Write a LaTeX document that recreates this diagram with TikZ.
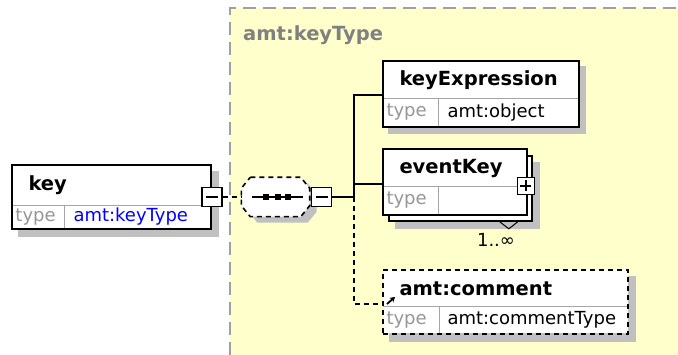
\documentclass[tikz,border=0pt]{standalone}
\usepackage{fontspec}
\setmainfont{DejaVu Sans}
\usetikzlibrary{arrows.meta,positioning,calc,fit,backgrounds}

\definecolor{grpyellow}{RGB}{255,255,204}
\definecolor{grpframe}{RGB}{160,160,160}
\definecolor{grptext}{RGB}{128,128,128}
\definecolor{shadowgray}{RGB}{192,192,192}
\definecolor{rule}{RGB}{165,165,165}
\definecolor{typegray}{RGB}{150,150,150}
\definecolor{typelink}{RGB}{0,0,255}

\newcommand{\hdfont}{\fontsize{19.5}{22}\selectfont\bfseries}
\newcommand{\rowfont}{\fontsize{18}{21}\selectfont}
% octagon round node #1, moved by (#2,#3)
\newcommand{\seqoutline}[3]{
  ([shift={(9+#2,#3)}]#1.north west) -- ([shift={(-9+#2,#3)}]#1.north east)
  -- ([shift={(#2,11+#3)}]#1.north east) -- ([shift={(#2,-11+#3)}]#1.south east)
  -- ([shift={(-9+#2,#3)}]#1.south east) -- ([shift={(9+#2,#3)}]#1.south west)
  -- ([shift={(#2,-11+#3)}]#1.south west) -- ([shift={(#2,11+#3)}]#1.north west) -- cycle}

\begin{document}
\begin{tikzpicture}[x=1pt, y=-1pt,
    hd/.style={draw=rule, line width=1pt, fill=white, anchor=north west, inner xsep=16pt, inner ysep=0pt, align=left, font=\hdfont},
    tl/.style={draw=rule, line width=1pt, fill=white, anchor=north west, inner xsep=3pt, inner ysep=0pt, text width=49pt, align=left, font=\rowfont, text=typegray},
    tv/.style={draw=rule, line width=1pt, fill=white, anchor=north west, inner xsep=9pt, inner ysep=0pt, align=left, font=\rowfont},
    frame/.style={draw, line width=1.8pt, inner sep=0pt},
    minusbox/.style={draw, fill=white, line width=1.6pt, minimum width=20pt, minimum height=19pt, inner sep=0pt,
        path picture={\draw[line width=1.6pt] ([xshift=4pt]path picture bounding box.west) -- ([xshift=-4pt]path picture bounding box.east);}},
    plusbox/.style={draw, fill=white, line width=1.5pt, minimum size=17pt, inner sep=0pt,
        path picture={\draw[line width=1.5pt] ([xshift=3pt]path picture bounding box.west) -- ([xshift=-3pt]path picture bounding box.east)
                                              ([yshift=-3pt]path picture bounding box.north) -- ([yshift=3pt]path picture bounding box.south);}},
    seqbox/.style={minimum width=68pt, minimum height=39pt, inner sep=0pt},
    wire/.style={line width=1.8pt},
    optwire/.style={line width=1.8pt, dash pattern=on 5pt off 4pt}
]
\useasboundingbox (0,0) rectangle (678,355);

% group of amt:keyType
\begin{scope}[on background layer]
  \fill[grpyellow] (230,8) rectangle (678,355);
  \draw[grpframe, line width=1.8pt, dash pattern=on 13pt off 7pt] (230,355) -- (230,8) -- (678,8);
\end{scope}
\node[anchor=west, inner sep=0pt, font=\hdfont, text=grptext] (grplabel) at (243,35) {amt:keyType};

% key
\node[hd, text width=166pt, minimum height=40pt] (keyhd) at (12,165) {key};
\node[tl, text width=46pt, minimum height=23pt] (keytl) at (12,205) {type};
\node[tv, text width=128pt, minimum height=23pt, text=typelink] (keyval) at (64,205) {amt:keyType};
\node[frame, fit=(keyhd)(keytl)(keyval)] (key) {};
\node[minusbox] (keymin) at (key.east) {};

% sequence
\node[seqbox] (seq) at (275.5,197) {};
\filldraw[fill=white, line width=1.6pt, dash pattern=on 5pt off 4pt] \seqoutline{seq}{0}{0};
\draw[line width=1.6pt] ([xshift=11pt]seq.west) -- ([xshift=-7pt]seq.east);
\foreach \dx in {-10,2,12}
  \fill ([xshift=\dx pt]seq.center) ++(-3,-3) rectangle ++(6,6);
\node[minusbox, anchor=west] (seqmin) at ([xshift=1pt]seq.east) {};

% keyExpression
\node[hd, text width=163pt, minimum height=37pt] (kexhd) at (383,61) {keyExpression};
\node[tl, minimum height=28pt] (kextl) at (383,98) {type};
\node[tv, text width=122pt, minimum height=28pt] (kexval) at (438,98) {amt:object};
\node[frame, fit=(kexhd)(kextl)(kexval)] (kex) {};

% eventKey
\node[frame, fill=white, anchor=north west, minimum width=143pt, minimum height=65pt] (evback) at (388,155) {};
\node[hd, text width=111pt, minimum height=37pt] (evhd) at (383,149) {eventKey};
\node[tl, minimum height=28pt] (evtl) at (383,186) {type};
\node[tv, text width=70pt, minimum height=28pt] (evval) at (438,186) {};
\node[frame, fit=(evhd)(evtl)(evval)] (ev) {};
\node[plusbox] (evplus) at ([shift={(-2,4)}]ev.east) {};
\draw[line width=1pt] ($(evback.south east)+(-33,0)$) -- ++(9,7) -- ++(9,-7);
\node[inner sep=0pt, font=\rowfont] (evocc) at (496,240) {1..∞};

% amt:comment
\node[hd, draw=none, text width=212pt, minimum height=36pt] (cmthd) at (383,270) {amt:comment};
\node[tl, draw=none, minimum height=27pt] (cmttl) at (383,306) {type};
\node[tv, draw=none, text width=171pt, minimum height=27pt] (cmtval) at (438,306) {amt:commentType};
\draw[rule, line width=1pt] (cmthd.south west) -- (cmthd.south east) (cmttl.north east) -- (cmttl.south east);
\node[frame, dash pattern=on 5pt off 4pt, fit=(cmthd)(cmttl)(cmtval)] (cmt) {};
\draw[-{Stealth[length=5pt,width=6pt]}, line width=1.8pt] ([shift={(4,-3)}]cmthd.south west) -- ++(8,-7);

% shadows
\begin{scope}[on background layer]
  \fill[shadowgray] ($(key.north west)+(7,7)$) rectangle ($(key.south east)+(7,7)$);
  \fill[shadowgray] \seqoutline{seq}{7}{6};
  \fill[shadowgray] ($(kex.north west)+(6,6)$) rectangle ($(kex.south east)+(6,6)$);
  \fill[shadowgray] ($(evback.north west)+(7,7)$) rectangle ($(evback.south east)+(7,7)$);
  \fill[shadowgray] ($(cmt.north west)+(7,7)$) rectangle ($(cmt.south east)+(7,7)$);
\end{scope}

% connectors
\coordinate (branch) at ($(seqmin.east)+(22,0)$);
\draw[optwire] (keymin) -- (seq);
\draw[wire] (seqmin) -- (branch);
\draw[wire] (branch) |- ([yshift=4pt]kexhd.south west);
\draw[wire] (branch) |- ([yshift=3pt]evhd.south west);
\draw[optwire] (branch) |- ([yshift=3pt]cmthd.south west);
\end{tikzpicture}
\end{document}
